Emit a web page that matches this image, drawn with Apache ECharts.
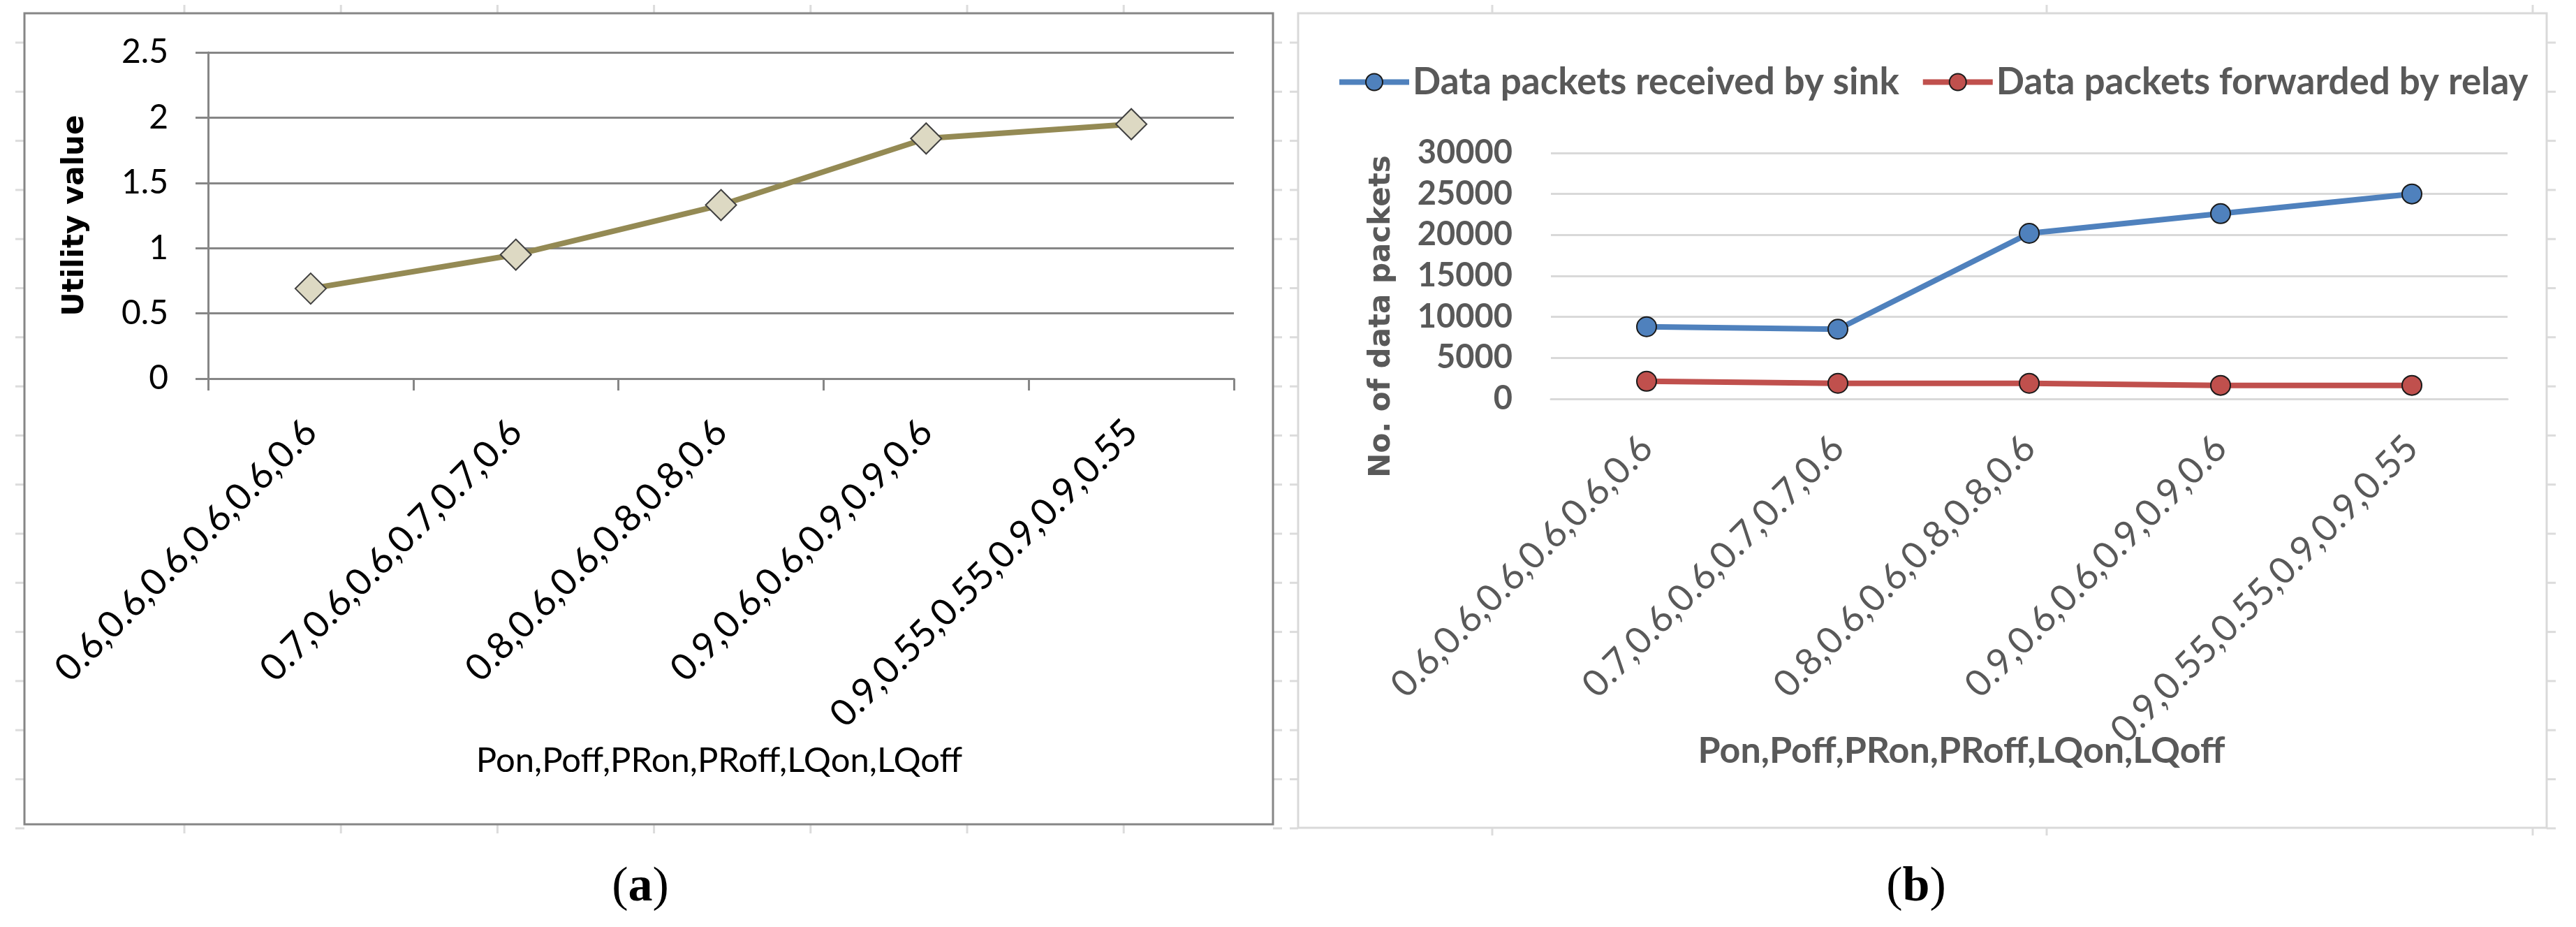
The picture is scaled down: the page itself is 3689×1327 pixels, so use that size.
<!DOCTYPE html>
<html>
<head>
<meta charset="utf-8">
<script src="https://cdn.jsdelivr.net/npm/echarts@6/dist/echarts.min.js"></script>
<style>
  html, body { margin: 0; padding: 0; background: #fff; }
  #chart { width: 3689px; height: 1327px; }
</style>
</head>
<body>
<div id="chart"></div>
<script>
// 数据
const categories = [
  '0.6,0.6,0.6,0.6,0.6,0.6',
  '0.7,0.6,0.6,0.7,0.7,0.6',
  '0.8,0.6,0.6,0.8,0.8,0.6',
  '0.9,0.6,0.6,0.9,0.9,0.6',
  '0.9,0.55,0.55,0.9,0.9,0.55'
];
const utilityValues = [0.69, 0.95, 1.33, 1.84, 1.95];
const sinkPackets = [8800, 8500, 20200, 22600, 25000];
const relayPackets = [2150, 1900, 1900, 1650, 1650];
const utilityTicks = { min: 0, max: 2.5, interval: 0.5 };
const packetTicks = { min: 0, max: 30000, interval: 5000 };
const xTitle = 'Pon,Poff,PRon,PRoff,LQon,LQoff';

const FONT = 'Lato, "Noto Sans", sans-serif';
const GRAY = '#595959';
const SHEET = '#dcdcdc';

// 表格背景的浅色刻度（Excel 单元格边线）
const sheetTicks = [];
const addTick = (x1, y1, x2, y2) => sheetTicks.push({
  type: 'line', z: -2, silent: true,
  shape: { x1, y1, x2, y2 },
  style: { stroke: SHEET, lineWidth: 3 }
});
for (let y = 61; y < 1190; y += 70.3) {
  addTick(22, y, 35, y);
  addTick(1823, y, 1836, y);
  addTick(1847, y, 1859, y);
  addTick(3647, y, 3660, y);
}
for (let k = 0; k < 7; k++) {
  const x = 264 + 224.2 * k;
  addTick(x, 7, x, 19);
  addTick(x, 1180, x, 1193);
}
[2137, 2931, 3627].forEach(x => {
  addTick(x, 7, x, 19);
  addTick(x, 1185, x, 1196);
});

const chart = echarts.init(document.getElementById('chart'));

chart.setOption({
  animation: false,
  backgroundColor: '#fff',
  legend: {
    top: 86,
    left: 1909,
    itemWidth: 100,
    itemHeight: 30,
    itemGap: 30,
    lineStyle: { width: 8 },
    data: ['Data packets received by sink', 'Data packets forwarded by relay'],
    textStyle: { fontFamily: FONT, fontWeight: 'bold', fontSize: 53, color: GRAY }
  },
  grid: [
    { left: 298, right: 1922, top: 75, bottom: 785 },
    { left: 2221, right: 98, top: 219, bottom: 756 }
  ],
  xAxis: [
    {
      type: 'category',
      gridIndex: 0,
      data: categories,
      boundaryGap: true,
      axisLine: { lineStyle: { color: '#868686', width: 3 } },
      axisTick: { show: true, length: 17, lineStyle: { color: '#868686', width: 3 } },
      axisLabel: { rotate: 45, margin: 68, fontFamily: FONT, fontSize: 53, color: '#000', interval: 0 }
    },
    {
      type: 'category',
      gridIndex: 1,
      data: categories,
      boundaryGap: true,
      axisLine: { lineStyle: { color: '#d9d9d9', width: 3 } },
      axisTick: { show: false },
      axisLabel: { rotate: 45, margin: 62, fontFamily: FONT, fontSize: 53, color: GRAY, interval: 0 }
    }
  ],
  yAxis: [
    {
      type: 'value',
      gridIndex: 0,
      min: utilityTicks.min,
      max: utilityTicks.max,
      interval: utilityTicks.interval,
      name: 'Utility value',
      nameLocation: 'middle',
      nameGap: 169,
      nameRotate: 90,
      nameTextStyle: { fontFamily: '"DejaVu Sans", sans-serif', fontWeight: 'bold', fontSize: 42, color: '#000' },
      axisLine: { show: true, lineStyle: { color: '#868686', width: 3 } },
      axisTick: { show: true, length: 18, lineStyle: { color: '#868686', width: 3 } },
      splitLine: { lineStyle: { color: '#868686', width: 3 } },
      axisLabel: { margin: 57, fontFamily: FONT, fontSize: 48, color: '#000' }
    },
    {
      type: 'value',
      gridIndex: 1,
      min: packetTicks.min,
      max: packetTicks.max,
      interval: packetTicks.interval,
      axisLine: { show: false },
      axisTick: { show: false },
      splitLine: { lineStyle: { color: '#d9d9d9', width: 3 } },
      axisLabel: {
        margin: 55, fontFamily: FONT, fontWeight: 'bold', fontSize: 47, color: GRAY,
        formatter: v => String(v)
      }
    }
  ],
  series: [
    {
      name: 'Utility value',
      type: 'line',
      xAxisIndex: 0,
      yAxisIndex: 0,
      data: utilityValues,
      symbol: 'diamond',
      symbolSize: 44,
      lineStyle: { color: '#948a54', width: 8 },
      itemStyle: { color: '#ddd9c3', borderColor: '#404040', borderWidth: 2 },
      z: 3
    },
    {
      name: 'Data packets received by sink',
      type: 'line',
      xAxisIndex: 1,
      yAxisIndex: 1,
      data: sinkPackets,
      symbol: 'circle',
      symbolSize: 28,
      lineStyle: { color: '#4f81bd', width: 8 },
      itemStyle: { color: '#4f81bd', borderColor: '#1a1a1a', borderWidth: 2 }
    },
    {
      name: 'Data packets forwarded by relay',
      type: 'line',
      xAxisIndex: 1,
      yAxisIndex: 1,
      data: relayPackets,
      symbol: 'circle',
      symbolSize: 28,
      lineStyle: { color: '#c0504d', width: 8 },
      itemStyle: { color: '#c0504d', borderColor: '#1a1a1a', borderWidth: 2 }
    }
  ],
  graphic: sheetTicks.concat([
    // 外框
    {
      type: 'rect', z: -1,
      shape: { x: 35, y: 19, width: 1788, height: 1161 },
      style: { fill: 'none', stroke: '#868686', lineWidth: 3 }
    },
    {
      type: 'rect', z: -1,
      shape: { x: 1859, y: 19, width: 1788, height: 1166 },
      style: { fill: 'none', stroke: '#d9d9d9', lineWidth: 3 }
    },
    // 轴标题
    {
      type: 'text', x: 1030, y: 1089,
      style: { text: xTitle, fontFamily: FONT, fontSize: 49, fill: '#000', textAlign: 'center', textVerticalAlign: 'middle' }
    },
    {
      type: 'text', x: 2809, y: 1075,
      style: { text: xTitle, fontFamily: FONT, fontWeight: 'bold', fontSize: 52, fill: GRAY, textAlign: 'center', textVerticalAlign: 'middle' }
    },
    {
      type: 'text', x: 1979, y: 453, rotation: Math.PI / 2,
      style: { text: 'No. of data packets', fontFamily: '"DejaVu Sans", sans-serif', fontWeight: 'bold', fontSize: 42, fill: GRAY, textAlign: 'center', textVerticalAlign: 'middle' }
    },
    // 子图标签
    {
      type: 'text', x: 917, y: 1271,
      style: {
        text: '({b|a})', fontFamily: '"Liberation Serif", serif', fontSize: 70, fill: '#000',
        textAlign: 'center', textVerticalAlign: 'middle',
        rich: { b: { fontFamily: '"Liberation Serif", serif', fontWeight: 'bold', fontSize: 70 } }
      }
    },
    {
      type: 'text', x: 2744, y: 1271,
      style: {
        text: '({b|b})', fontFamily: '"Liberation Serif", serif', fontSize: 70, fill: '#000',
        textAlign: 'center', textVerticalAlign: 'middle',
        rich: { b: { fontFamily: '"Liberation Serif", serif', fontWeight: 'bold', fontSize: 70 } }
      }
    }
  ])
});
</script>
</body>
</html>
